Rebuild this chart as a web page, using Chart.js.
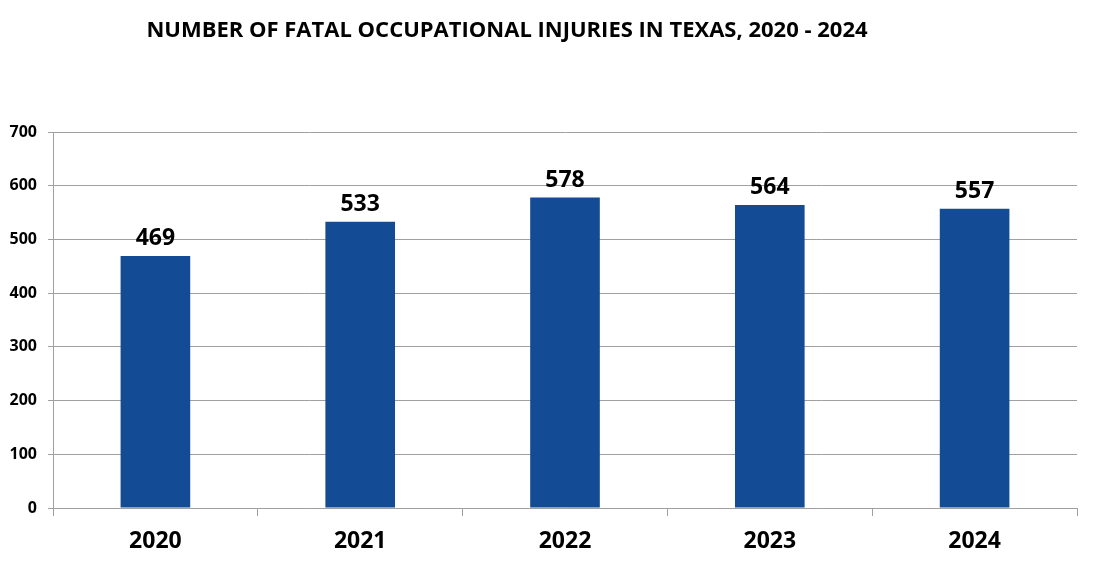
<!DOCTYPE html>
<html lang="en">
<head>
    <meta charset="UTF-8">
    <title>Fatal Occupational Injuries in Texas</title>
    <script src="https://cdn.jsdelivr.net/npm/chart.js"></script>
    <style>
        body { margin: 0; padding: 0; background: #fff; }
        .wrap { width: 1100px; height: 569px; position: relative; }
    </style>
</head>
<body>
<div class="wrap">
    <canvas id="injuryChart" width="1100" height="569"></canvas>
</div>
<script>
    const years = ['2020', '2021', '2022', '2023', '2024'];
    const fatalities = [469, 533, 578, 564, 557];
    const yTicks = [0, 100, 200, 300, 400, 500, 600, 700];

    const titleText = 'NUMBER OF FATAL OCCUPATIONAL INJURIES IN TEXAS, 2020 - 2024';
    const barColor = '#134c94';
    const gridColor = '#a0a0a0';
    const fontFamily = "'Open Sans', 'Noto Sans', sans-serif";

    // title + value labels drawn by hand
    const extras = {
        id: 'extras',
        afterDatasetsDraw(chart) {
            const ctx = chart.ctx;
            ctx.save();
            ctx.fillStyle = '#000';
            ctx.textAlign = 'center';
            ctx.textBaseline = 'alphabetic';
            ctx.font = 'bold 22px ' + fontFamily;
            ctx.fillText(titleText, 507, 37);

            ctx.font = 'bold 23px ' + fontFamily;
            chart.getDatasetMeta(0).data.forEach((bar, i) => {
                ctx.fillText(fatalities[i], bar.x, bar.y - 11);
            });
            ctx.restore();
        }
    };

    new Chart(document.getElementById('injuryChart'), {
        type: 'bar',
        data: {
            labels: years,
            datasets: [{
                data: fatalities,
                backgroundColor: barColor,
                barPercentage: 0.34,
                categoryPercentage: 1
            }]
        },
        options: {
            responsive: false,
            animation: false,
            layout: { padding: { top: 132, right: 23, left: 0, bottom: 0 } },
            plugins: {
                legend: { display: false },
                tooltip: { enabled: false }
            },
            scales: {
                x: {
                    grid: {
                        offset: true,
                        drawOnChartArea: false,
                        drawTicks: true,
                        tickLength: 8,
                        color: gridColor
                    },
                    border: { display: true, color: gridColor },
                    ticks: {
                        color: '#000',
                        padding: 12,
                        font: { family: fontFamily, size: 23, weight: 'bold' }
                    },
                    afterFit(scale) { scale.height = 61; }
                },
                y: {
                    min: 0,
                    max: 700,
                    afterBuildTicks(scale) {
                        scale.ticks = yTicks.map(v => ({ value: v }));
                    },
                    grid: { color: gridColor, tickLength: 5 },
                    border: { display: true, color: gridColor },
                    ticks: {
                        color: '#000',
                        padding: 11,
                        font: { family: fontFamily, size: 16, weight: 'bold' }
                    },
                    afterFit(scale) { scale.width = 53; }
                }
            }
        },
        plugins: [extras]
    });
</script>
</body>
</html>
